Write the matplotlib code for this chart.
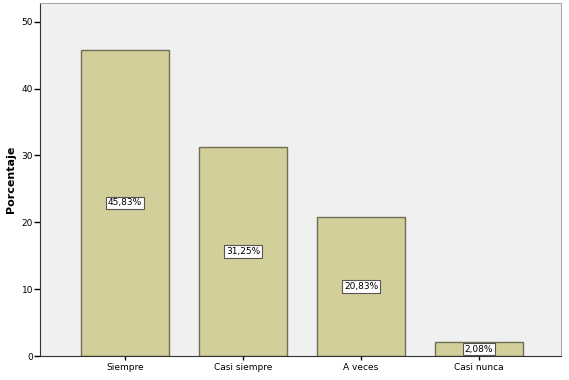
import numpy as np
import matplotlib
matplotlib.use("Agg")
import matplotlib.pyplot as plt

categorias = ["Siempre", "Casi siempre", "A veces", "Casi nunca"]
porcentajes = [45.83, 31.25, 20.83, 2.08]
etiquetas = ["45,83%", "31,25%", "20,83%", "2,08%"]

fig = plt.figure(figsize=(5.69, 3.80), dpi=100)
ax = fig.add_axes([0.0703, 0.063, 0.9157, 0.929])
ax.set_facecolor("#f0f0f0")

x = np.arange(len(categorias))
ax.bar(x, porcentajes, width=0.746, color="#d3cf9a", edgecolor="#6e6e55", linewidth=1)

for xi, v, t in zip(x, porcentajes, etiquetas):
    ax.text(xi, v / 2, t, ha="center", va="center", fontsize=6.5,
            bbox=dict(boxstyle="square,pad=0.2", fc="white", ec="#555555", lw=0.8))

ax.set_xlim(-0.72, 3.695)
ax.set_ylim(0, 52.8)
ax.set_yticks([0, 10, 20, 30, 40, 50])
ax.set_xticks(x)
ax.set_xticklabels(categorias, fontsize=6.5)
ax.tick_params(axis="y", labelsize=6.5, length=4, width=1, pad=1)
ax.tick_params(axis="x", length=3, width=1, pad=2)
ax.set_ylabel("Porcentaje", fontsize=8, fontweight="bold", labelpad=4)

for s in ax.spines.values():
    s.set_color("#aaaaaa")
    s.set_linewidth(0.8)
ax.spines["left"].set_color("#333333")
ax.spines["bottom"].set_color("#333333")

fig.savefig("out.png", dpi=100)
